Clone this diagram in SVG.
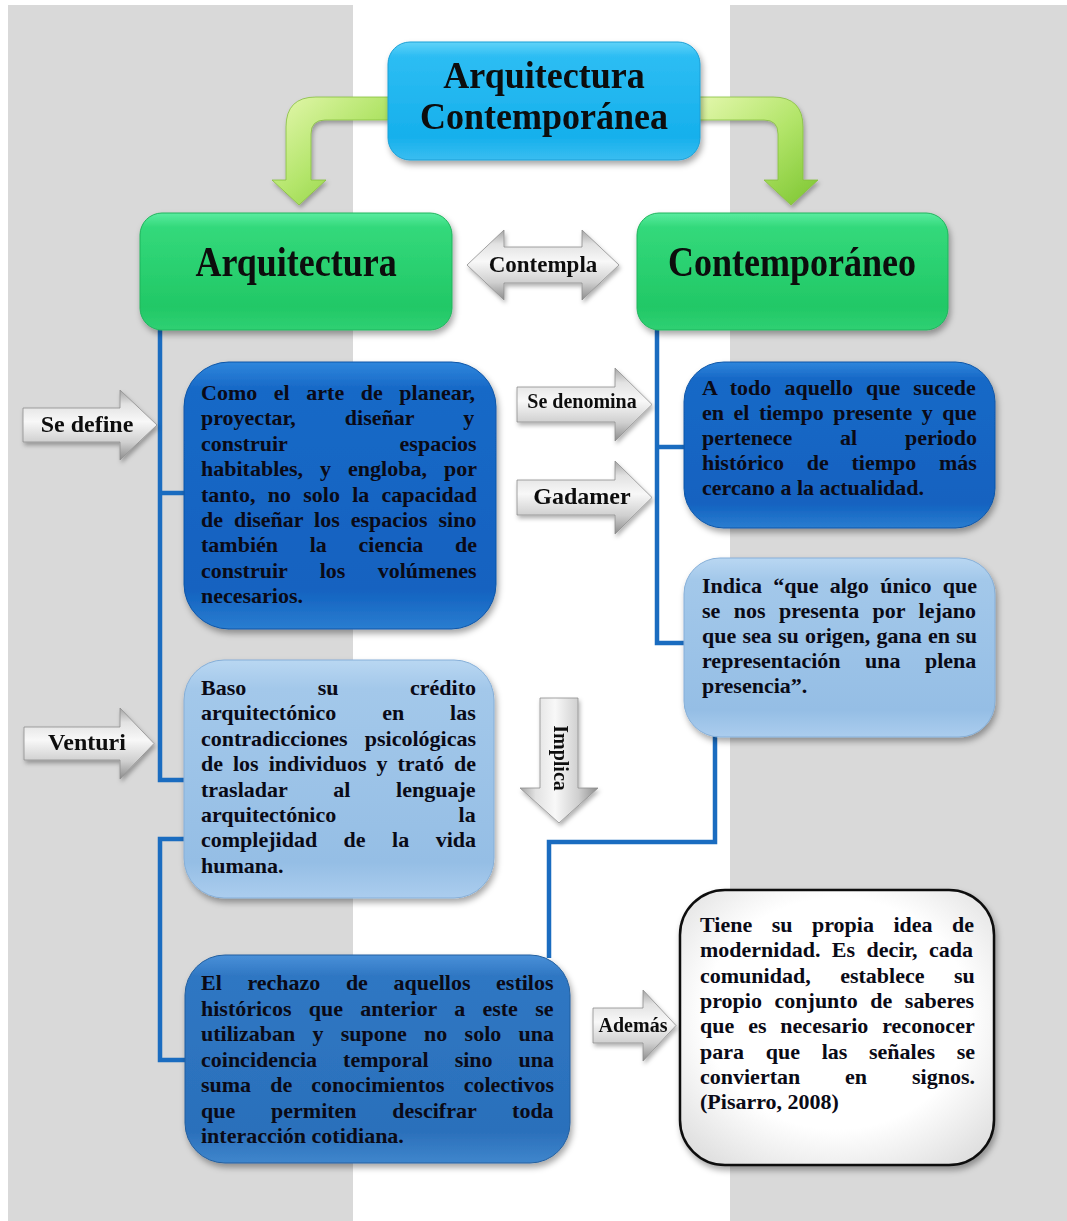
<svg xmlns="http://www.w3.org/2000/svg" width="1067" height="1221" viewBox="0 0 1067 1221">
<defs>
<style>
.tx{font-family:"Liberation Serif","Times New Roman",serif;font-weight:700;font-size:22px;fill:#0a0a16}
.lb{font-family:"Liberation Serif","Times New Roman",serif;font-weight:700;fill:#111;text-anchor:middle}
.hd{font-family:"Liberation Serif","Times New Roman",serif;font-weight:700;font-size:36px;fill:#0a0a0a;text-anchor:middle}
.conn{fill:none;stroke:#1a6cc0;stroke-width:4.5;stroke-linejoin:miter}
.garrow{fill:url(#gGrayV);stroke:#8e8e8e;stroke-width:0.8}
</style>
<filter id="sh" x="-10%" y="-10%" width="125%" height="125%">
<feDropShadow dx="2" dy="4" stdDeviation="3" flood-color="#000" flood-opacity="0.35"/>
</filter>
<filter id="sh2" x="-10%" y="-10%" width="125%" height="130%">
<feDropShadow dx="1.5" dy="3" stdDeviation="2" flood-color="#000" flood-opacity="0.3"/>
</filter>
<linearGradient id="gTitle" x1="0" y1="0" x2="0" y2="1">
<stop offset="0" stop-color="#62d3f8"/><stop offset="0.12" stop-color="#2dbdf3"/><stop offset="0.8" stop-color="#16b0ec"/><stop offset="1" stop-color="#39bdf0"/>
</linearGradient>
<linearGradient id="gGreen" x1="0" y1="0" x2="0" y2="1">
<stop offset="0" stop-color="#5aeca0"/><stop offset="0.12" stop-color="#33d97b"/><stop offset="0.8" stop-color="#22c866"/><stop offset="1" stop-color="#2fd073"/>
</linearGradient>
<linearGradient id="gDark" x1="0" y1="0" x2="0" y2="1">
<stop offset="0" stop-color="#2f86dc"/><stop offset="0.1" stop-color="#1769c7"/><stop offset="0.85" stop-color="#1262c0"/><stop offset="1" stop-color="#2a7dd0"/>
</linearGradient>
<linearGradient id="gMid" x1="0" y1="0" x2="0" y2="1">
<stop offset="0" stop-color="#4a90d8"/><stop offset="0.1" stop-color="#2f77c3"/><stop offset="0.85" stop-color="#2b70bb"/><stop offset="1" stop-color="#3f86cc"/>
</linearGradient>
<linearGradient id="gLight" x1="0" y1="0" x2="0" y2="1">
<stop offset="0" stop-color="#b9d7f2"/><stop offset="0.12" stop-color="#a3c8ea"/><stop offset="0.85" stop-color="#95bee5"/><stop offset="1" stop-color="#abcdee"/>
</linearGradient>
<radialGradient id="gWhite" cx="0.5" cy="0.45" r="0.7">
<stop offset="0.6" stop-color="#ffffff"/><stop offset="1" stop-color="#dcdcdc"/>
</radialGradient>
<linearGradient id="gGrayV" x1="0" y1="0" x2="0" y2="1">
<stop offset="0" stop-color="#a4a4a4"/><stop offset="0.2" stop-color="#e2e2e2"/><stop offset="0.45" stop-color="#f8f8f8"/><stop offset="0.75" stop-color="#cfcfcf"/><stop offset="1" stop-color="#8c8c8c"/>
</linearGradient>
<linearGradient id="gGrayH" x1="0" y1="0" x2="1" y2="0">
<stop offset="0" stop-color="#a4a4a4"/><stop offset="0.2" stop-color="#e2e2e2"/><stop offset="0.45" stop-color="#f8f8f8"/><stop offset="0.75" stop-color="#cfcfcf"/><stop offset="1" stop-color="#8c8c8c"/>
</linearGradient>
<linearGradient id="gArrowGreen" x1="0" y1="0" x2="1" y2="1">
<stop offset="0" stop-color="#e6f8b0"/><stop offset="0.5" stop-color="#b3e56a"/><stop offset="1" stop-color="#7cc530"/>
</linearGradient>
</defs>

<rect x="0" y="0" width="1067" height="1221" fill="#ffffff"/>
<rect x="8" y="5" width="345" height="1216" fill="#d9d9d9"/>
<rect x="730" y="5" width="337" height="1216" fill="#d9d9d9"/>

<g id="connectors">
<path class="conn" d="M160,330 V780 H185"/>
<path class="conn" d="M160,493 H185"/>
<path class="conn" d="M185,839 H160 V1060 H187"/>
<path class="conn" d="M657,330 V643 H685"/>
<path class="conn" d="M657,447 H685"/>
<path class="conn" d="M715,735 V842 H549 V958"/>
</g>

<g id="arrow-left-green" filter="url(#sh2)">
<path d="M395,97 H316 Q286,97 286,127 V180 H272 L299,205 L326,180 H311 V134 Q311,120 325,120 H395 Z" fill="url(#gArrowGreen)" stroke="#86bf3e" stroke-width="0.8"/>
</g>
<g id="arrow-right-green" filter="url(#sh2)">
<path d="M693,97 H773 Q803,97 803,127 V180 H818 L791,205 L764,180 H778 V134 Q778,120 764,120 H693 Z" fill="url(#gArrowGreen)" stroke="#86bf3e" stroke-width="0.8"/>
</g>

<g id="node-title" filter="url(#sh)">
<rect x="388" y="42" width="312" height="118" rx="22" fill="url(#gTitle)" stroke="#1a9fd6" stroke-width="1"/>
<text class="hd" transform="translate(544,88) scale(1,1.05)">Arquitectura</text>
<text class="hd" transform="translate(544,129) scale(1,1.05)">Contemporánea</text>
</g>

<g id="node-arquitectura" filter="url(#sh)">
<rect x="140" y="213" width="312" height="117" rx="22" fill="url(#gGreen)" stroke="#1fb45c" stroke-width="1"/>
<text class="hd" transform="translate(296,276) scale(1,1.15)">Arquitectura</text>
</g>

<g id="node-contemporaneo" filter="url(#sh)">
<rect x="637" y="213" width="311" height="117" rx="22" fill="url(#gGreen)" stroke="#1fb45c" stroke-width="1"/>
<text class="hd" transform="translate(792,276) scale(1,1.15)">Contemporáneo</text>
</g>

<g id="label-contempla" filter="url(#sh2)">
<path class="garrow" d="M467,265 L504,230 V247 H582 V230 L619,265 L582,300 V283 H504 V300 Z"/>
<text class="lb" x="543" y="272" font-size="23">Contempla</text>
</g>

<g id="label-se-define" filter="url(#sh2)">
<path class="garrow" d="M23,408 H120 V390 L157,425 L120,460 V442 H23 Z"/>
<text class="lb" x="87" y="432" font-size="24">Se define</text>
</g>

<g id="label-se-denomina" filter="url(#sh2)">
<path class="garrow" d="M517,387 H615 V368 L652,404.5 L615,441 V422 H517 Z"/>
<text class="lb" x="582" y="408" font-size="20">Se denomina</text>
</g>

<g id="label-gadamer" filter="url(#sh2)">
<path class="garrow" d="M517,480 H615 V461 L652,497.5 L615,534 V515 H517 Z"/>
<text class="lb" x="582" y="504" font-size="24">Gadamer</text>
</g>

<g id="label-venturi" filter="url(#sh2)">
<path class="garrow" d="M24,727 H120 V708 L154,743.5 L120,779 V760 H24 Z"/>
<text class="lb" x="87" y="750" font-size="24">Venturi</text>
</g>

<g id="label-implica" filter="url(#sh2)">
<path d="M540,698 H578 V788 H598 L559,823 L520,788 H540 Z" fill="url(#gGrayH)" stroke="#8e8e8e" stroke-width="0.8"/>
<text class="lb" font-size="20" transform="translate(554,758) rotate(90)">Implica</text>
</g>

<g id="label-ademas" filter="url(#sh2)">
<path class="garrow" d="M593,1008 H643 V990 L676,1025.5 L643,1061 V1043 H593 Z"/>
<text class="lb" x="633" y="1032" font-size="20">Además</text>
</g>

<g id="node-define">
<rect x="184" y="362" width="312" height="267" rx="45" fill="url(#gDark)" stroke="#0f56a8" stroke-width="1" filter="url(#sh)"/>
<text class="tx" x="201" y="400" style="word-spacing:11.1px">Como el arte de planear,</text>
<text class="tx" x="201" y="425.4" style="word-spacing:43.6px">proyectar, diseñar y</text>
<text class="tx" x="201" y="450.8" style="word-spacing:106.7px">construir espacios</text>
<text class="tx" x="201" y="476.2" style="word-spacing:11.5px">habitables, y engloba, por</text>
<text class="tx" x="201" y="501.6" style="word-spacing:6.8px">tanto, no solo la capacidad</text>
<text class="tx" x="201" y="527" style="word-spacing:5.4px">de diseñar los espacios sino</text>
<text class="tx" x="201" y="552.4" style="word-spacing:26.2px">también la ciencia de</text>
<text class="tx" x="201" y="577.8" style="word-spacing:26.8px">construir los volúmenes</text>
<text class="tx" x="201" y="603.2">necesarios.</text>
</g>

<g id="node-denomina">
<rect x="684" y="362" width="311" height="166" rx="40" fill="url(#gDark)" stroke="#0f56a8" stroke-width="1" filter="url(#sh)"/>
<text class="tx" x="702" y="395" style="word-spacing:7.6px">A todo aquello que sucede</text>
<text class="tx" x="702" y="420" style="word-spacing:4px">en el tiempo presente y que</text>
<text class="tx" x="702" y="445" style="word-spacing:42.2px">pertenece al periodo</text>
<text class="tx" x="702" y="470" style="word-spacing:17.3px">histórico de tiempo más</text>
<text class="tx" x="702" y="495">cercano a la actualidad.</text>
</g>

<g id="node-gadamer">
<rect x="684" y="558" width="311" height="179" rx="36" fill="url(#gLight)" stroke="#86afd8" stroke-width="1" filter="url(#sh)"/>
<text class="tx" x="702" y="593" style="word-spacing:5.8px">Indica “que algo único que</text>
<text class="tx" x="702" y="618" style="word-spacing:7.9px">se nos presenta por lejano</text>
<text class="tx" x="702" y="643" style="word-spacing:0.7px">que sea su origen, gana en su</text>
<text class="tx" x="702" y="668" style="word-spacing:19px">representación una plena</text>
<text class="tx" x="702" y="693">presencia”.</text>
</g>

<g id="node-venturi">
<rect x="184" y="660" width="310" height="238" rx="40" fill="url(#gLight)" stroke="#86afd8" stroke-width="1" filter="url(#sh)"/>
<text class="tx" x="201" y="695" style="word-spacing:66px">Baso su crédito</text>
<text class="tx" x="201" y="720.4" style="word-spacing:40.4px">arquitectónico en las</text>
<text class="tx" x="201" y="745.8" style="word-spacing:11.6px">contradicciones psicológicas</text>
<text class="tx" x="201" y="771.2" style="word-spacing:4.5px">de los individuos y trató de</text>
<text class="tx" x="201" y="796.6" style="word-spacing:40.3px">trasladar al lenguaje</text>
<text class="tx" x="201" y="822" style="word-spacing:116.8px">arquitectónico la</text>
<text class="tx" x="201" y="847.4" style="word-spacing:21px">complejidad de la vida</text>
<text class="tx" x="201" y="872.8">humana.</text>
</g>

<g id="node-implica">
<rect x="185" y="955" width="385" height="208" rx="40" fill="url(#gMid)" stroke="#235f9f" stroke-width="1" filter="url(#sh)"/>
<text class="tx" x="201" y="990" style="word-spacing:20.1px">El rechazo de aquellos estilos</text>
<text class="tx" x="201" y="1015.5" style="word-spacing:11.8px">históricos que anterior a este se</text>
<text class="tx" x="201" y="1041" style="word-spacing:11.8px">utilizaban y supone no solo una</text>
<text class="tx" x="201" y="1066.5" style="word-spacing:20.5px">coincidencia temporal sino una</text>
<text class="tx" x="201" y="1092" style="word-spacing:13.6px">suma de conocimientos colectivos</text>
<text class="tx" x="201" y="1117.5" style="word-spacing:30.3px">que permiten descifrar toda</text>
<text class="tx" x="201" y="1143">interacción cotidiana.</text>
</g>

<g id="node-ademas">
<rect x="680" y="890" width="314" height="275" rx="45" fill="url(#gWhite)" stroke="#111" stroke-width="2.5" filter="url(#sh)"/>
<text class="tx" x="700" y="932" style="word-spacing:14px">Tiene su propia idea de</text>
<text class="tx" x="700" y="957.3" style="word-spacing:5.9px">modernidad. Es decir, cada</text>
<text class="tx" x="700" y="982.6" style="word-spacing:24px">comunidad, establece su</text>
<text class="tx" x="700" y="1007.9" style="word-spacing:7.1px">propio conjunto de saberes</text>
<text class="tx" x="700" y="1033.2" style="word-spacing:8.4px">que es necesario reconocer</text>
<text class="tx" x="700" y="1058.5" style="word-spacing:16.2px">para que las señales se</text>
<text class="tx" x="700" y="1083.8" style="word-spacing:39.4px">conviertan en signos.</text>
<text class="tx" x="700" y="1109.1">(Pisarro, 2008)</text>
</g>
</svg>
